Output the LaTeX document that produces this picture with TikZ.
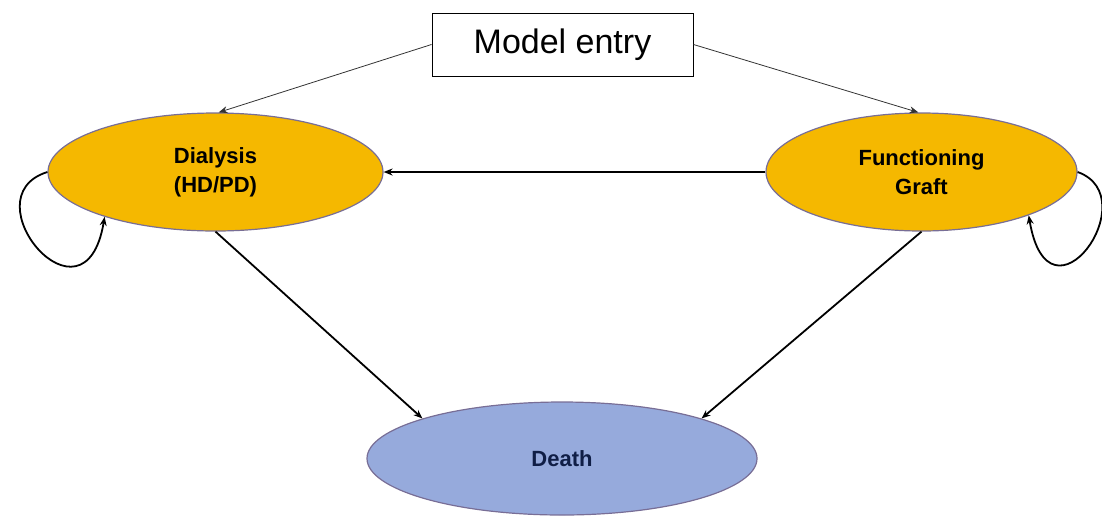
\documentclass[tikz,border=0pt]{standalone}
\usepackage{fontspec}
\setmainfont{Liberation Sans}
\usetikzlibrary{shapes.geometric, arrows.meta}

\definecolor{stategold}{RGB}{245,184,0}
\definecolor{statedeath}{RGB}{150,170,220}
\definecolor{stateline}{RGB}{120,110,150}
\definecolor{deathtext}{RGB}{16,30,70}

\begin{document}
\begin{tikzpicture}[x=1pt, y=-1pt, >={Stealth[length=9pt,width=7pt]}, align=center]
  \tikzset{
    state/.style={ellipse, draw=stateline, line width=1.2pt, inner sep=0pt,
      fill=stategold, minimum height=118pt, font=\fontsize{22}{29}\selectfont\bfseries},
    move/.style={->, line width=1.8pt},
    entryline/.style={->, line width=0.8pt, black!80}
  }
  \useasboundingbox (0,0) rectangle (1102,515);

  \node[draw, line width=1pt, minimum width=261pt, minimum height=63pt,
    font=\fontsize{34}{40}\selectfont] (entry) at (562.5,44.5) {Model entry};

  \node[state, minimum width=335pt] (dia) at (215.5,172) {Dialysis\\(HD/PD)};
  \node[state, minimum width=311pt] (graft) at (921.5,172) {Functioning\\Graft};
  \node[state, fill=statedeath, minimum width=390pt, minimum height=113pt,
    text=deathtext] (death) at (562,458.5) {Death};

  \draw[entryline] (entry.west) -- (dia.87);
  \draw[entryline] (entry.east) -- (graft.93);

  \draw[move] (graft.west) -- (dia.east);
  \draw[move] (dia.south) -- (death.164);
  \draw[move] (graft.south) -- (death.16);

  % self loops
  \draw[move] (dia.180) .. controls +(-80,25) and +(-20,120) .. (dia.202);
  \draw[move] (graft.0) .. controls +(70,25) and +(20,120) .. (graft.338);
\end{tikzpicture}
\end{document}
